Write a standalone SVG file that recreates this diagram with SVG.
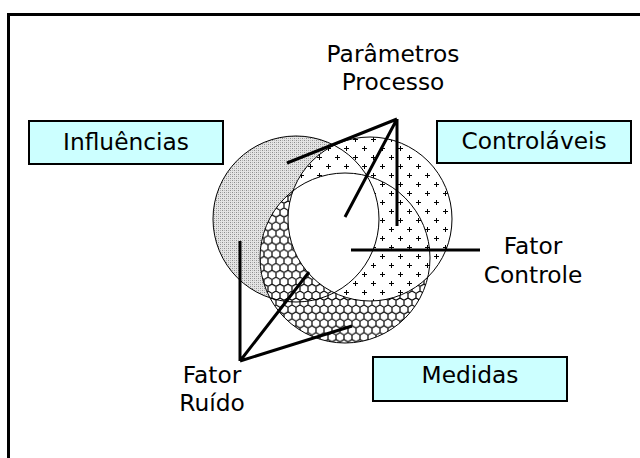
<svg xmlns="http://www.w3.org/2000/svg" width="640" height="458" viewBox="0 0 640 458">
<style>
text{font-family:"DejaVu Sans","Liberation Sans",sans-serif;font-size:23.3px;fill:#000;text-anchor:middle}
.box{fill:#ccffff;stroke:#000;stroke-width:2}
.lead{stroke:#000;stroke-width:3;fill:none;stroke-linecap:butt}
.outline{fill:none;stroke:#000;stroke-width:1}
</style>
<defs>
<pattern id="pGray" width="4" height="4" patternUnits="userSpaceOnUse">
<rect width="4" height="4" fill="#e4e4e4"/>
<rect x="0" y="0" width="1" height="1" fill="#8c8c8c"/>
<rect x="2" y="2" width="1" height="1" fill="#8c8c8c"/>
<rect x="2" y="0" width="1" height="1" fill="#b4b4b4"/>
<rect x="0" y="2" width="1" height="1" fill="#b4b4b4"/>
</pattern>
<pattern id="pPlus" width="18" height="18" patternUnits="userSpaceOnUse">
<rect width="18" height="18" fill="#fff"/>
<path d="M2,4.5h5M4.5,2v5M11,13.5h5M13.5,11v5" stroke="#000" stroke-width="1"/>
</pattern>
<pattern id="pHex" width="8" height="13.86" patternUnits="userSpaceOnUse">
<rect width="8" height="13.86" fill="#fff"/>
<path d="M4,0L8,2.31V6.93L4,9.24L0,6.93V2.31Z M4,9.24V13.86" stroke="#000" stroke-width="1.2" fill="none"/>
</pattern>
<clipPath id="cPlus"><circle cx="370" cy="219" r="82"/></clipPath>
<clipPath id="cHex"><circle cx="345" cy="258" r="85"/></clipPath>
</defs>
<rect id="frame" x="8.5" y="14.5" width="640" height="460" fill="#fff" stroke="#000" stroke-width="3"/>
<g id="circles">
<g id="influencias-circle"><circle cx="296" cy="219" r="83" fill="url(#pGray)"/></g>
<g id="medidas-circle"><circle cx="345" cy="258" r="85" fill="url(#pHex)"/></g>
<g id="controlaveis-circle"><circle cx="370" cy="219" r="82" fill="url(#pPlus)"/></g>
<g id="controle-region" clip-path="url(#cHex)"><circle cx="296" cy="219" r="83" fill="#fff" clip-path="url(#cPlus)"/></g>
<g id="outlines">
<circle class="outline" cx="296" cy="219" r="83"/>
<circle class="outline" cx="345" cy="258" r="85"/>
<circle class="outline" cx="370" cy="219" r="82"/>
</g>
</g>
<g id="connectors">
<path class="lead" d="M397,119L287,163M397,119L345,217M397,119V226"/>
<path class="lead" d="M351,250H480"/>
<path class="lead" d="M240,361V241M240,361L309,272M240,361L352,326"/>
</g>
<g id="influencias"><rect class="box" x="29" y="121" width="194" height="43"/><text x="126" y="150">Influências</text></g>
<g id="controlaveis"><rect class="box" x="437" y="121" width="194" height="42"/><text x="534" y="149">Controláveis</text></g>
<g id="medidas"><rect class="box" x="373" y="357" width="194" height="44"/><text x="470" y="383">Medidas</text></g>
<g id="parametros"><text x="393" y="62">Parâmetros</text><text x="393" y="90">Processo</text></g>
<g id="fator-controle"><text x="533" y="254">Fator</text><text x="533" y="283">Controle</text></g>
<g id="fator-ruido"><text x="212" y="383">Fator</text><text x="212" y="411">Ruído</text></g>
</svg>
